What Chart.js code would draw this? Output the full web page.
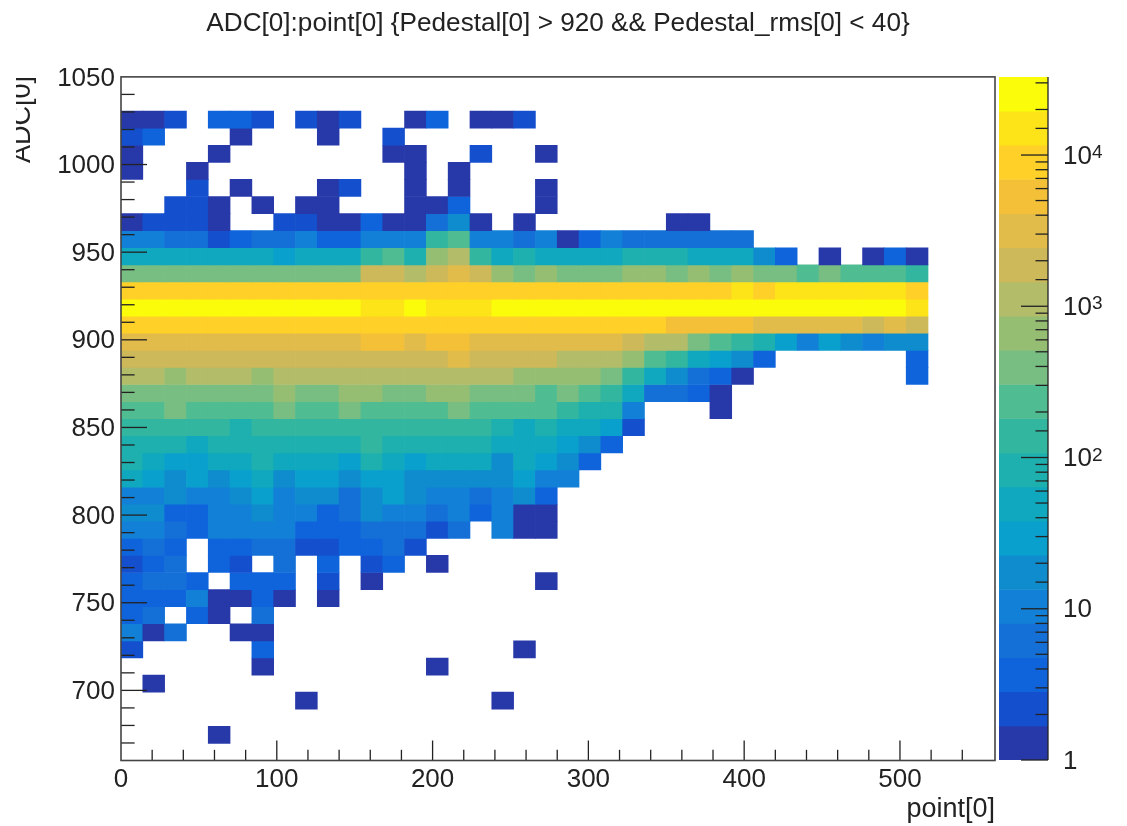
<!DOCTYPE html>
<html>
<head>
<meta charset="utf-8">
<title>ADC[0]:point[0]</title>
<script src="https://cdn.jsdelivr.net/npm/chart.js@4"></script>
<style>
  html, body { margin: 0; background: #fff; overflow: hidden; }
  canvas { position: absolute; top: 0; filter: blur(0.7px); }
  #main { left: 0; }
  #cbar { left: 995px; }
</style>
</head>
<body>
<canvas id="main" width="1127" height="826"></canvas>
<canvas id="cbar" width="132" height="826"></canvas>
<script>
const titleText = "ADC[0]:point[0] {Pedestal[0] > 920 && Pedestal_rms[0] < 40}";
const xTitle = "point[0]";
const yTitle = "ADC[0]";

// histogram binning
const xBinWidth = 14;
const yBinStart = 660;
const yBinHeight = 9.75;

// colour bands, bottom of the palette first
const contourEdges = [1, 1.68, 2.83, 4.75, 8, 13.4, 22.6, 38, 64, 107, 181, 304, 512, 860, 1450, 2440, 4100, 6890, 11600, 19500, 32800];
const paletteColours = [
  "#2738a8", "#1450cd", "#0f64dc", "#1470d7", "#1280d7", "#0f8ccd", "#0aa0cd", "#0fa8be", "#1eafaf", "#32b6a0",
  "#50bc91", "#78be82", "#96be73", "#b2bc69", "#cdb95a", "#e1bc4b", "#f3c037", "#fed028", "#fce419", "#fafc0a"
];

const cbarTickValues = [1, 10, 100, 1000, 10000];
const cbarTickLabels = ["1", "10", "10", "10", "10"];
const cbarTickExponents = ["", "", "2", "3", "4"];

// bin contents, one row per ADC bin from the bottom up, one entry per point bin, 0 = empty
const counts = [
  [],
  [0,0,0,0,1],
  [],
  [0,0,0,0,0,0,0,0,1,0,0,0,0,0,0,0,0,1],
  [0,1],
  [0,0,0,0,0,0,1,0,0,0,0,0,0,0,1],
  [2,0,0,0,0,0,4,0,0,0,0,0,0,0,0,0,0,0,1],
  [10,1,6,0,0,1,1],
  [4,6,0,4,1,0,6],
  [4,4,4,10,1,1,4,1,0,1],
  [4,6,6,4,0,4,4,4,0,2,0,1,0,0,0,0,0,0,0,1],
  [2,4,6,0,4,2,0,6,0,4,0,2,4,0,1],
  [4,6,4,0,4,4,6,6,2,2,4,4,6,2],
  [10,10,6,4,10,10,10,10,4,4,4,6,6,6,2,6,0,10,1,1],
  [18,18,4,4,10,10,18,10,10,4,6,18,10,10,6,10,4,10,1,1],
  [10,10,18,10,10,18,30,10,18,18,6,18,30,18,10,10,6,10,18,4],
  [50,30,18,30,18,30,50,18,30,30,18,30,30,18,18,18,18,18,30,10,10],
  [85,50,30,30,50,50,85,50,50,50,30,85,50,30,50,50,50,18,50,30,18,4],
  [85,85,85,50,85,85,85,85,85,85,85,140,85,85,85,85,85,50,50,50,30,18,4],
  [140,140,140,140,140,85,140,140,140,140,140,140,140,140,140,140,140,85,50,85,50,50,30,2],
  [240,240,400,240,240,240,240,400,240,240,400,240,240,240,240,400,240,240,240,240,140,85,85,10,0,0,0,1],
  [400,400,400,400,400,400,400,680,400,400,680,680,400,400,680,680,400,400,400,240,400,240,140,50,6,6,4,1],
  [1150,1150,680,1150,1150,1150,680,1150,1150,1150,1150,1150,1150,1150,1150,1150,1150,1150,680,680,680,680,400,140,50,18,6,4,1,0,0,0,0,0,0,0,4],
  [1900,1900,1900,1900,1900,1900,1900,1900,1900,1900,1900,1900,1900,1900,1900,3200,1900,1900,1900,1900,1150,1150,1150,680,240,140,50,30,18,4,0,0,0,0,0,0,4],
  [3200,3200,3200,3200,3200,3200,3200,3200,3200,3200,3200,5400,5400,3200,5400,5400,3200,3200,3200,3200,3200,3200,3200,1900,1150,1150,400,240,140,85,30,10,30,18,10,18,18],
  [9000,9000,9000,9000,9000,9000,9000,9000,9000,9000,9000,9000,9000,9000,9000,9000,9000,9000,9000,9000,9000,9000,9000,9000,9000,5400,5400,5400,5400,3200,3200,3200,3200,3200,1900,3200,1900],
  [25000,25000,25000,25000,25000,25000,25000,25000,25000,25000,25000,15000,15000,25000,15000,15000,15000,25000,25000,25000,25000,25000,25000,25000,25000,25000,25000,25000,25000,25000,25000,25000,25000,25000,25000,25000,15000],
  [9000,9000,9000,9000,9000,9000,9000,9000,9000,9000,9000,9000,9000,9000,9000,9000,9000,9000,9000,9000,9000,9000,9000,9000,9000,9000,9000,9000,15000,9000,15000,15000,15000,15000,15000,15000,9000],
  [400,400,400,400,400,400,400,400,400,400,400,1900,1900,1150,1900,3200,1900,680,400,680,400,400,400,680,680,400,680,400,680,400,400,240,400,240,240,240,140],
  [50,50,50,50,50,50,50,30,50,50,50,140,240,85,680,1150,140,50,85,50,50,50,50,85,85,85,50,50,50,18,4,0,1,0,1,4,1],
  [10,10,6,6,2,4,6,6,10,4,4,10,10,10,140,240,10,10,6,10,1,4,10,6,6,6,6,6,6],
  [1,2,2,2,1,0,0,2,2,1,1,4,1,1,6,18,1,0,1,0,0,0,0,0,0,1,1],
  [0,0,2,2,1,0,1,0,1,1,0,0,0,1,1,4,0,0,0,1],
  [0,0,0,2,0,1,0,0,0,1,2,0,0,1,0,1,0,0,0,1],
  [1,0,0,1,0,0,0,0,0,0,0,0,0,1,0,1],
  [1,0,0,0,1,0,0,0,0,0,0,0,1,1,0,0,2,0,0,1],
  [2,4,0,0,0,1,0,0,0,1,0,0,2],
  [1,1,2,0,4,4,2,0,2,1,2,0,0,1,4,0,1,1,2]
];

function bandOf(n) {
  let k = 0;
  while (k < paletteColours.length - 1 && n >= contourEdges[k + 1]) k++;
  return k;
}

const cells = [];
counts.forEach((row, k) => {
  row.forEach((n, c) => {
    if (n > 0) {
      cells.push({
        x: xBinWidth * (c + 0.5),
        y: [yBinStart + yBinHeight * k, yBinStart + yBinHeight * (k + 1)],
        n: n
      });
    }
  });
});

const inkColour = "#222";
const fontFamily = "'Liberation Sans', Arial, sans-serif";
const tickFont = { family: fontFamily, size: 26 };
const axisTitleFont = { family: fontFamily, size: 27 };

function tickLine(ctx, x1, y1, x2, y2) {
  ctx.beginPath();
  ctx.moveTo(x1, y1);
  ctx.lineTo(x2, y2);
  ctx.stroke();
}

// ROOT draws its ticks inside the frame
const mainFrame = {
  id: "mainFrame",
  afterDatasetsDraw(chart) {
    const { ctx, chartArea: a, scales } = chart;
    ctx.save();
    ctx.strokeStyle = inkColour;
    ctx.lineWidth = 1.3;
    scales.x.ticks.forEach(t => {
      if (t.value === 0 || t.value >= 560) return;
      const px = scales.x.getPixelForValue(t.value);
      tickLine(ctx, px, a.bottom, px, a.bottom - (t.value % 100 === 0 ? 20 : 10.7));
    });
    scales.y.ticks.forEach(t => {
      if (t.value === 660 || t.value === 1050) return;
      const py = scales.y.getPixelForValue(t.value);
      tickLine(ctx, a.left, py, a.left + (t.value % 50 === 0 ? 26 : 13.6), py);
    });
    ctx.strokeStyle = "#444";
    ctx.lineWidth = 1.6;
    ctx.strokeRect(a.left, a.top, a.right - a.left, a.bottom - a.top);

    // y title, cut at the left as in the original image
    ctx.beginPath();
    ctx.rect(16, 0, 60, 300);
    ctx.clip();
    ctx.translate(30, 76);
    ctx.rotate(-Math.PI / 2);
    ctx.font = "27px " + fontFamily;
    ctx.fillStyle = inkColour;
    ctx.textAlign = "right";
    ctx.textBaseline = "alphabetic";
    ctx.fillText(yTitle, 0, 0);
    ctx.restore();
  }
};

const cbarFrame = {
  id: "cbarFrame",
  afterDatasetsDraw(chart) {
    const { ctx, chartArea: a, scales } = chart;
    ctx.save();
    ctx.strokeStyle = inkColour;
    ctx.lineWidth = 1.3;
    scales.y.ticks.forEach(t => {
      const py = scales.y.getPixelForValue(t.value);
      tickLine(ctx, a.right, py, a.right - (cbarTickValues.includes(t.value) ? 27 : 12.5), py);
    });
    tickLine(ctx, a.right, a.top, a.right, a.bottom);

    // exponents sit next to the "10" tick labels
    ctx.font = "19px " + fontFamily;
    ctx.fillStyle = inkColour;
    ctx.textBaseline = "alphabetic";
    cbarTickValues.forEach((v, i) => {
      if (cbarTickExponents[i]) ctx.fillText(cbarTickExponents[i], a.right + 44, scales.y.getPixelForValue(v) + 3);
    });
    ctx.restore();
  }
};

new Chart(document.getElementById("main"), {
  type: "bar",
  data: {
    datasets: [{
      data: cells,
      backgroundColor: c => paletteColours[bandOf(c.raw.n)],
      borderWidth: 0,
      barPercentage: 1,
      categoryPercentage: 1,
      grouped: false
    }]
  },
  options: {
    responsive: false,
    animation: false,
    layout: { padding: { right: 132 } },
    plugins: {
      legend: { display: false },
      tooltip: { enabled: false },
      title: {
        display: true,
        text: titleText,
        fullSize: false,
        color: inkColour,
        font: { family: fontFamily, size: 26.15, weight: "normal" },
        padding: { top: 8, bottom: 37.5 }
      }
    },
    scales: {
      x: {
        type: "linear",
        min: 0,
        max: 561,
        offset: false,
        afterFit: s => { s.height = 65.5; },
        grid: { display: false, drawTicks: false },
        border: { display: false },
        title: { display: true, text: xTitle, align: "end", color: inkColour, font: axisTitleFont, padding: 0 },
        ticks: {
          stepSize: 20,
          autoSkip: false,
          maxRotation: 0,
          color: inkColour,
          font: tickFont,
          padding: 4,
          callback: v => (v % 100 === 0 && v < 560 ? v : "")
        }
      },
      y: {
        min: 660,
        max: 1050,
        afterFit: s => { s.width = 121; },
        grid: { display: false, drawTicks: false },
        border: { display: false },
        ticks: {
          stepSize: 10,
          autoSkip: false,
          color: inkColour,
          font: tickFont,
          padding: 6,
          labelOffset: 1.5,
          callback: v => (v % 50 === 0 ? v : "")
        }
      }
    }
  },
  plugins: [mainFrame]
});

new Chart(document.getElementById("cbar"), {
  type: "bar",
  data: {
    datasets: [{
      data: paletteColours.map((c, k) => ({ x: 0.5, y: [contourEdges[k], contourEdges[k + 1]] })),
      backgroundColor: paletteColours,
      borderWidth: 0,
      barThickness: 49,
      grouped: false
    }]
  },
  options: {
    responsive: false,
    animation: false,
    layout: { padding: { left: 4, top: 77, bottom: 66 } },
    plugins: { legend: { display: false }, tooltip: { enabled: false } },
    scales: {
      x: { type: "linear", min: 0, max: 1, display: false, offset: false },
      y: {
        type: "logarithmic",
        position: "right",
        min: contourEdges[0],
        max: contourEdges[contourEdges.length - 1],
        afterFit: s => { s.width = 79; },
        afterBuildTicks: s => { s.ticks = s.ticks.filter(t => t.value <= 30000); },
        grid: { display: false, drawTicks: false },
        border: { display: false },
        ticks: {
          autoSkip: false,
          maxRotation: 0,
          color: inkColour,
          font: tickFont,
          padding: 15,
          labelOffset: 1.5,
          callback: v => {
            const i = cbarTickValues.indexOf(v);
            return i >= 0 ? cbarTickLabels[i] : "";
          }
        }
      }
    }
  },
  plugins: [cbarFrame]
});
</script>
</body>
</html>
